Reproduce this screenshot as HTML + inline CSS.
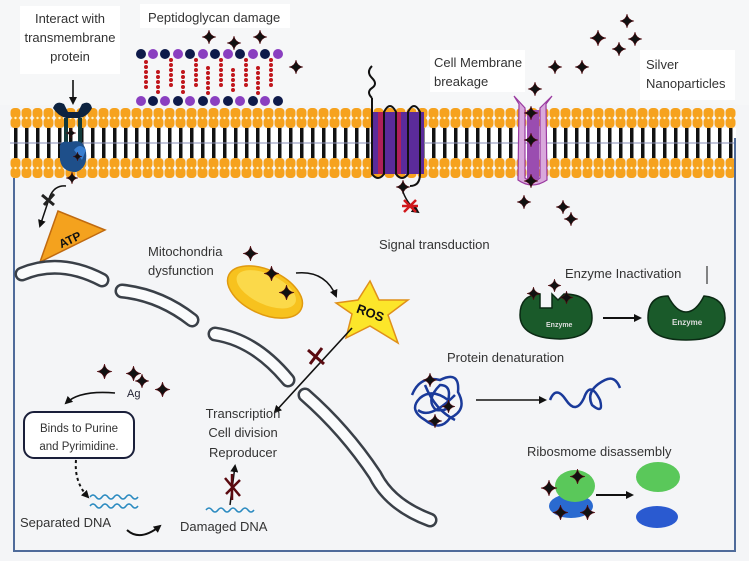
<!DOCTYPE html>
<html><head><meta charset="utf-8"><style>
html,body{margin:0;padding:0;background:#f4f5f7;}
svg{display:block}
text{font-family:"Liberation Sans",sans-serif;fill:#333;font-size:13px}
</style></head><body>
<svg width="749" height="561" viewBox="0 0 749 561" xmlns="http://www.w3.org/2000/svg">
<defs>
<pattern id="heads" x="10" y="108" width="11" height="20" patternUnits="userSpaceOnUse">
<rect x="0.5" y="0" width="10" height="10.5" rx="4" fill="#f6a21e"/>
<rect x="0.5" y="9.5" width="10" height="10.5" rx="4" fill="#f6a21e"/>
<circle cx="5.5" cy="10" r="1.2" fill="#fff6c0"/>
</pattern>
<pattern id="heads2" x="10" y="158" width="11" height="20" patternUnits="userSpaceOnUse">
<rect x="0.5" y="0" width="10" height="10.5" rx="4" fill="#f6a21e"/>
<rect x="0.5" y="9.5" width="10" height="10.5" rx="4" fill="#f6a21e"/>
<circle cx="5.5" cy="10" r="1.2" fill="#fff6c0"/>
</pattern>
<pattern id="tails" x="10" y="128" width="11" height="30" patternUnits="userSpaceOnUse">
<rect x="4" y="0" width="3.5" height="30" fill="#111"/>
</pattern>
<symbol id="st" viewBox="-10 -10 20 20" overflow="visible">
<path d="M0,-10 Q1.5,-1.5 10,0 Q1.5,1.5 0,10 Q-1.5,1.5 -10,0 Q-1.5,-1.5 0,-10Z" fill="#111" stroke="#5a0a10" stroke-width="0.8"/>
</symbol>
<marker id="ah" markerWidth="8" markerHeight="8" refX="6" refY="4" orient="auto" markerUnits="userSpaceOnUse">
<path d="M0,0 L8,4 L0,8Z" fill="#111"/>
</marker>
</defs>

<rect x="0" y="0" width="749" height="105" fill="#f6f7f8"/>
<rect x="20" y="6" width="100" height="68" fill="#fff"/>
<rect x="140" y="4" width="150" height="24" fill="#fff"/>
<rect x="430" y="50" width="95" height="42" fill="#fff"/>
<rect x="640" y="50" width="95" height="50" fill="#fff"/>

<rect x="10" y="108" width="726" height="20" fill="url(#heads)"/>
<rect x="10" y="128" width="726" height="30" fill="#fff"/>
<rect x="10" y="128" width="726" height="30" fill="url(#tails)"/>
<line x1="10" y1="143" x2="736" y2="143" stroke="#8a8fb8" stroke-width="1"/>
<rect x="10" y="158" width="726" height="20" fill="url(#heads2)"/>

<path d="M14,178 L14,551 L735,551 L735,138" fill="none" stroke="#4f6b9a" stroke-width="2"/>

<text x="70" y="23" text-anchor="middle">Interact with</text>
<text x="70" y="42" text-anchor="middle">transmembrane</text>
<text x="70" y="61" text-anchor="middle">protein</text>
<text x="148" y="22">Peptidoglycan damage</text>
<text x="434" y="67">Cell Membrane</text>
<text x="434" y="86">breakage</text>
<text x="646" y="69">Silver</text>
<text x="646" y="88">Nanoparticles</text>

<line x1="73" y1="80" x2="73" y2="103" stroke="#111" stroke-width="1.6" marker-end="url(#ah)"/>
<path d="M53,108 Q56,100 64,104 L68,112 L78,112 L82,104 Q90,100 92,108 Q88,116 80,118 L66,118 Q58,116 53,108Z" fill="#0d2340"/>
<rect x="64" y="118" width="4" height="36" fill="#123a3a"/>
<rect x="78" y="118" width="4" height="36" fill="#123a3a"/>
<path d="M60,150 Q58,140 70,142 Q84,138 86,152 Q88,168 76,172 Q62,172 60,160Z" fill="#1e4f8a"/>
<path d="M74,150 Q80,142 86,150 L82,160Z" fill="#3a7fd0"/>
<use href="#st" x="66" y="128" width="10" height="10"/>
<use href="#st" x="73" y="152" width="9" height="9"/>
<use href="#st" x="66" y="172" width="12" height="12"/>

<g stroke="#c0161c" stroke-width="4" stroke-linecap="round" stroke-dasharray="0 5">
<line x1="146" y1="62" x2="146" y2="88"/><line x1="158" y1="72" x2="158" y2="94"/>
<line x1="171" y1="60" x2="171" y2="86"/><line x1="183" y1="72" x2="183" y2="94"/>
<line x1="196" y1="60" x2="196" y2="90"/><line x1="208" y1="68" x2="208" y2="94"/>
<line x1="221" y1="60" x2="221" y2="86"/><line x1="233" y1="70" x2="233" y2="94"/>
<line x1="246" y1="60" x2="246" y2="90"/><line x1="258" y1="68" x2="258" y2="94"/>
<line x1="271" y1="60" x2="271" y2="90"/>
</g>
<g>
<circle cx="141" cy="54" r="5" fill="#0e1a4a"/><circle cx="153" cy="54" r="5" fill="#8a3fc0"/>
<circle cx="165" cy="54" r="5" fill="#0e1a4a"/><circle cx="178" cy="54" r="5" fill="#8a3fc0"/>
<circle cx="190" cy="54" r="5" fill="#0e1a4a"/><circle cx="203" cy="54" r="5" fill="#8a3fc0"/>
<circle cx="215" cy="54" r="5" fill="#0e1a4a"/><circle cx="228" cy="54" r="5" fill="#8a3fc0"/>
<circle cx="240" cy="54" r="5" fill="#0e1a4a"/><circle cx="253" cy="54" r="5" fill="#8a3fc0"/>
<circle cx="265" cy="54" r="5" fill="#0e1a4a"/><circle cx="278" cy="54" r="5" fill="#8a3fc0"/>
<circle cx="141" cy="101" r="5" fill="#8a3fc0"/><circle cx="153" cy="101" r="5" fill="#0e1a4a"/>
<circle cx="165" cy="101" r="5" fill="#8a3fc0"/><circle cx="178" cy="101" r="5" fill="#0e1a4a"/>
<circle cx="190" cy="101" r="5" fill="#8a3fc0"/><circle cx="203" cy="101" r="5" fill="#0e1a4a"/>
<circle cx="215" cy="101" r="5" fill="#8a3fc0"/><circle cx="228" cy="101" r="5" fill="#0e1a4a"/>
<circle cx="240" cy="101" r="5" fill="#8a3fc0"/><circle cx="253" cy="101" r="5" fill="#0e1a4a"/>
<circle cx="265" cy="101" r="5" fill="#8a3fc0"/><circle cx="278" cy="101" r="5" fill="#0e1a4a"/>
</g>
<use href="#st" x="202" y="30" width="14" height="14"/>
<use href="#st" x="227" y="36" width="14" height="14"/>
<use href="#st" x="253" y="30" width="14" height="14"/>
<use href="#st" x="289" y="60" width="14" height="14"/>

<rect x="372" y="112" width="52" height="62" fill="#5b2b9a"/>
<rect x="378" y="112" width="6" height="62" fill="#b0205a"/>
<rect x="396" y="112" width="5" height="62" fill="#b0205a"/>
<path d="M372,98 Q366,92 372,88 Q378,84 372,78 Q366,72 372,66 M372,98 L372,174 Q378,182 384,174 L384,112 Q390,100 396,112 L396,174 Q402,182 408,174 L408,112 Q414,100 420,112 L420,174 Q420,186 410,186" fill="none" stroke="#111" stroke-width="2"/>
<use href="#st" x="396" y="180" width="14" height="14"/>
<path d="M403,192 Q408,205 418,212" fill="none" stroke="#111" stroke-width="1.5" marker-end="url(#ah)"/>
<path d="M404,200 L416,212 M404,212 L416,200 M402,206 L418,206" stroke="#d0181c" stroke-width="2.5"/>
<text x="379" y="249">Signal transduction</text>

<path d="M514,96 L525,108 L525,178 Q532,184 540,178 L540,108 L552,96 L546,104 L547,180 Q532,190 518,180 L519,104Z" fill="#d9a8dc" stroke="#9a3aa0" stroke-width="1.2"/>
<rect x="527" y="110" width="12" height="70" fill="#9a4db0"/>
<use href="#st" x="524" y="106" width="14" height="14"/>
<use href="#st" x="524" y="133" width="14" height="14"/>
<use href="#st" x="524" y="174" width="14" height="14"/>
<use href="#st" x="517" y="195" width="14" height="14"/>
<use href="#st" x="556" y="200" width="14" height="14"/>
<use href="#st" x="564" y="212" width="14" height="14"/>
<use href="#st" x="528" y="82" width="14" height="14"/>
<use href="#st" x="548" y="60" width="14" height="14"/>
<use href="#st" x="575" y="60" width="14" height="14"/>
<use href="#st" x="590" y="30" width="16" height="16"/>
<use href="#st" x="612" y="42" width="14" height="14"/>
<use href="#st" x="620" y="14" width="14" height="14"/>
<use href="#st" x="628" y="32" width="14" height="14"/>

<path d="M40,262 L58,211 L105,230Z" fill="#f4a21e" stroke="#c06a10" stroke-width="1.5"/>
<text x="58" y="246" transform="rotate(-25 65 240)" style="font-weight:bold;font-size:12px;fill:#111">ATP</text>
<path d="M66,186 Q55,185 50,196 L40,226" fill="none" stroke="#111" stroke-width="1.5" marker-end="url(#ah)"/>
<path d="M42,195 L54,205 M44,205 L54,194" stroke="#222" stroke-width="3"/>

<g fill="none" stroke-linecap="round">
<g stroke="#3a4048" stroke-width="15">
<path d="M22,274 Q60,258 102,280"/>
<path d="M122,291 Q160,295 192,320"/>
<path d="M215,334 Q255,340 288,380"/>
<path d="M305,395 Q345,430 375,475 Q390,505 430,520"/>
</g>
<g stroke="#fafbfc" stroke-width="10">
<path d="M22,274 Q60,258 102,280"/>
<path d="M122,291 Q160,295 192,320"/>
<path d="M215,334 Q255,340 288,380"/>
<path d="M305,395 Q345,430 375,475 Q390,505 430,520"/>
</g>
</g>

<text x="148" y="256">Mitochondria</text>
<text x="148" y="275">dysfunction</text>
<g transform="rotate(25 265 292)">
<ellipse cx="265" cy="292" rx="40" ry="22" fill="#f7c21e" stroke="#e09a10" stroke-width="1.5"/>
<ellipse cx="265" cy="289" rx="32" ry="15" fill="#fbd94a"/>
</g>
<use href="#st" x="243" y="246" width="15" height="15"/>
<use href="#st" x="264" y="266" width="15" height="15"/>
<use href="#st" x="279" y="285" width="15" height="15"/>
<path d="M296,273 Q325,270 336,296" fill="none" stroke="#111" stroke-width="1.5" marker-end="url(#ah)"/>

<path d="M370,281 L379,300 L408,300 L388,315 L398,343 L370,326 L346,338 L352,314 L336,303 L358,300Z" fill="#fce62a" stroke="#e0901a" stroke-width="1.5"/>
<text x="356" y="318" transform="rotate(20 372 314)" style="font-weight:bold;fill:#111">ROS</text>
<line x1="352" y1="328" x2="275" y2="412" stroke="#111" stroke-width="1.6" marker-end="url(#ah)"/>
<path d="M308,350 L324,364 M310,364 L322,348" stroke="#5a0a10" stroke-width="3"/>

<text x="243" y="418" text-anchor="middle">Transcription</text>
<text x="243" y="437" text-anchor="middle">Cell division</text>
<text x="243" y="457" text-anchor="middle">Reproducer</text>
<line x1="230" y1="505" x2="235" y2="466" stroke="#111" stroke-width="1.5" marker-end="url(#ah)"/>
<path d="M225,478 L240,496 M226,494 L240,480 M232,474 L232,500" stroke="#5a0a10" stroke-width="2.5"/>
<path d="M206,510 q3,-4 6,0 q3,4 6,0 q3,-4 6,0 q3,4 6,0 q3,-4 6,0 q3,4 6,0 q3,-4 6,0 q3,4 6,0" fill="none" stroke="#2a8ac0" stroke-width="1.5"/>
<text x="180" y="531">Damaged DNA</text>

<use href="#st" x="97" y="364" width="15" height="15"/>
<use href="#st" x="126" y="366" width="15" height="15"/>
<use href="#st" x="135" y="374" width="14" height="14"/>
<use href="#st" x="155" y="382" width="15" height="15"/>
<text x="127" y="397" style="font-size:11px;fill:#223">Ag</text>
<path d="M115,393 Q80,390 66,403" fill="none" stroke="#111" stroke-width="1.6" marker-end="url(#ah)"/>
<rect x="24" y="412" width="110" height="46" rx="10" fill="#fff" stroke="#1a1f3a" stroke-width="2"/>
<text x="79" y="432" text-anchor="middle" style="font-size:11.5px">Binds to Purine</text>
<text x="79" y="450" text-anchor="middle" style="font-size:11.5px">and Pyrimidine.</text>
<path d="M76,460 Q74,482 88,497" fill="none" stroke="#111" stroke-width="2" stroke-dasharray="3 3" marker-end="url(#ah)"/>
<path d="M90,497 q3,-4 6,0 q3,4 6,0 q3,-4 6,0 q3,4 6,0 q3,-4 6,0 q3,4 6,0 q3,-4 6,0 q3,4 6,0" fill="none" stroke="#2a8ac0" stroke-width="1.5"/>
<path d="M90,506 q3,-4 6,0 q3,4 6,0 q3,-4 6,0 q3,4 6,0 q3,-4 6,0 q3,4 6,0 q3,-4 6,0 q3,4 6,0" fill="none" stroke="#2a8ac0" stroke-width="1.5"/>
<text x="20" y="527">Separated DNA</text>
<path d="M127,530 Q140,542 160,526" fill="none" stroke="#111" stroke-width="2" marker-end="url(#ah)"/>

<text x="565" y="278">Enzyme Inactivation</text>
<line x1="707" y1="266" x2="707" y2="284" stroke="#111" stroke-width="1"/>
<path d="M520,315 Q520,295 540,294 L540,308 L552,308 L552,294 L558,300 L564,294 Q592,294 592,318 Q592,338 560,339 Q520,338 520,315Z" fill="#1a5a2a" stroke="#0b2a14" stroke-width="1.5"/>
<text x="546" y="327" style="font-size:7px;fill:#ddd;font-weight:bold">Enzyme</text>
<use href="#st" x="527" y="287" width="13" height="13"/>
<use href="#st" x="548" y="279" width="13" height="13"/>
<use href="#st" x="560" y="291" width="13" height="13"/>
<line x1="603" y1="318" x2="640" y2="318" stroke="#111" stroke-width="2" marker-end="url(#ah)"/>
<path d="M648,318 Q648,296 668,296 Q676,312 686,312 Q696,312 704,296 Q725,298 725,318 Q725,340 686,340 Q648,340 648,318Z" fill="#1a5a2a" stroke="#0b2a14" stroke-width="1.5"/>
<text x="672" y="325" style="font-size:8px;fill:#ddd;font-weight:bold">Enzyme</text>

<text x="447" y="362">Protein denaturation</text>
<g fill="none" stroke="#1a3a9a" stroke-width="2.5">
<path d="M412,395 Q420,375 440,380 Q460,370 458,392 Q468,410 450,418 Q440,432 425,420 Q408,410 420,398 Q432,388 448,400 Q452,412 436,410 Q425,400 440,385 Q455,385 445,410"/>
<path d="M418,410 Q430,420 455,395 M425,385 Q435,410 455,420"/>
<path d="M550,400 Q556,385 566,400 Q576,415 584,398 Q590,380 600,400 Q604,415 592,405 Q585,390 605,380 Q615,375 620,388"/>
</g>
<use href="#st" x="423" y="373" width="14" height="14"/>
<use href="#st" x="442" y="400" width="13" height="13"/>
<use href="#st" x="428" y="414" width="14" height="14"/>
<line x1="476" y1="400" x2="545" y2="400" stroke="#111" stroke-width="1.6" marker-end="url(#ah)"/>

<text x="527" y="456">Ribosmome disassembly</text>
<ellipse cx="571" cy="506" rx="22" ry="12" fill="#2a6ad0"/>
<ellipse cx="575" cy="486" rx="20" ry="16" fill="#5ac85a"/>
<use href="#st" x="541" y="480" width="16" height="16"/>
<use href="#st" x="570" y="469" width="15" height="15"/>
<use href="#st" x="553" y="505" width="15" height="15"/>
<use href="#st" x="580" y="505" width="15" height="15"/>
<line x1="596" y1="495" x2="632" y2="495" stroke="#111" stroke-width="2" marker-end="url(#ah)"/>
<ellipse cx="658" cy="477" rx="22" ry="15" fill="#5ac85a"/>
<ellipse cx="657" cy="517" rx="21" ry="11" fill="#2a5ad0"/>
</svg>
</body></html>
